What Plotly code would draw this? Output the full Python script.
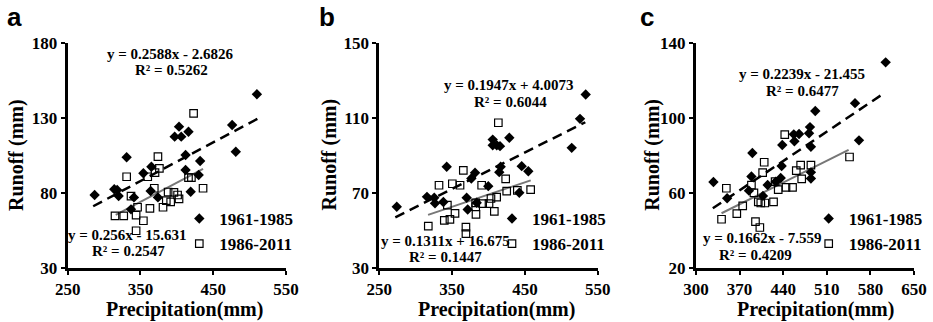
import plotly.graph_objects as go

# ---------------- data ----------------
# Panel a
a_early_x = [287, 314, 318, 320, 331, 337, 341, 354, 365, 364, 374, 397, 403, 406, 416, 412, 412, 419, 430, 432, 476, 481, 510]
a_early_y = [78.6, 82.4, 81.9, 77.9, 103.8, 69.0, 77.0, 93.1, 97.5, 81.3, 77.0, 117.6, 124.3, 117.6, 120.9, 105.3, 95.3, 80.8, 92.0, 101.3, 125.4, 107.5, 145.9]
a_late_x = [315, 327, 344, 354, 344, 331, 346, 337, 360, 370, 376, 374, 369, 363, 381, 388, 396, 401, 403, 385.5, 391.5, 416, 420, 436, 423]
a_late_y = [64.6, 64.6, 65.2, 61.4, 54.7, 90.8, 70.4, 77.9, 90.8, 93.5, 96.4, 104.2, 83.1, 69.7, 70.4, 80.6, 80.4, 78.6, 76.0, 74.8, 74.0, 90.2, 90.2, 83.1, 133.2]

# Panel b
b_early_x = [274, 315.5, 325.5, 326.5, 338, 342.6, 370, 371.4, 376.4, 381.5, 383.8, 399.7, 405.8, 405.8, 411.3, 415.8, 428.6, 416.7, 414.8, 445.6, 454.7, 442.3, 514.3, 525.7, 533.5]
b_early_y = [62.6, 67.9, 67.4, 64.4, 65.1, 84.0, 67.4, 61.1, 77.7, 80.8, 64.7, 73.6, 98.5, 95.5, 95.5, 95.0, 99.5, 84.0, 81.1, 84.3, 81.6, 70.1, 94.1, 109.6, 122.6]
b_late_x = [317.3, 332, 339.3, 347, 343.5, 350.3, 354, 360.9, 365.4, 369, 369, 382.4, 382.4, 382.8, 390.6, 392, 400.7, 403.4, 411.2, 408, 413.5, 423.6, 425, 439.6, 457.9]
b_late_y = [52.2, 74.1, 55.3, 55.8, 63.5, 74.9, 59.0, 74.1, 82.0, 51.7, 48.2, 64.7, 62.6, 58.5, 74.1, 64.3, 64.3, 67.0, 67.7, 60.1, 107.5, 77.5, 70.9, 71.3, 71.8]

# Panel c
c_early_x = [328, 350, 390.5, 389, 385, 415, 407.5, 428, 436, 437.5, 438.5, 458, 457, 465.5, 483, 481.5, 484.5, 484.5, 484.5, 491.5, 555.3, 561.7, 604.5]
c_early_y = [65.8, 57.1, 81.3, 68.8, 61.2, 64.2, 58.4, 66.0, 68.0, 74.4, 85.6, 87.6, 91.3, 91.5, 95.2, 91.9, 84.7, 71.0, 67.7, 103.8, 108.0, 88.1, 129.8]
c_late_x = [341, 365.5, 375, 348.7, 389, 393, 400, 404, 410.5, 424.5, 407, 409.5, 432, 427, 444.5, 455, 442.5, 461, 395.5, 402.5, 546.5, 468, 484.5, 469.7]
c_late_y = [45.9, 48.9, 53.1, 62.5, 64.2, 60.0, 55.2, 54.6, 54.6, 55.2, 70.8, 76.4, 61.8, 66.0, 63.0, 63.0, 91.2, 71.9, 44.6, 41.5, 79.2, 74.9, 74.9, 67.5]

# Trend lines: (slope, intercept) and x extent
a_early_fit = (0.2588, -2.6826); a_early_span = [285, 511]
a_late_fit = (0.256, -15.631);   a_late_span = [316, 436]
b_early_fit = (0.1947, 4.0073);  b_early_span = [272, 533]
b_late_fit = (0.1311, 16.675);   b_late_span = [317, 458]
c_early_fit = (0.2239, -21.455); c_early_span = [327, 600]
c_late_fit = (0.1662, -7.559);   c_late_span = [341, 545]

# Equation labels
a_eq = ["y = 0.2588x - 2.6826", "R² = 0.5262", "y = 0.256x - 15.631", "R² = 0.2547"]
b_eq = ["y = 0.1947x + 4.0073", "R² = 0.6044", "y = 0.1311x + 16.675", "R² = 0.1447"]
c_eq = ["y = 0.2239x - 21.455", "R² = 0.6477", "y = 0.1662x - 7.559", "R² = 0.4209"]

series_names = ["1961-1985", "1986-2011"]
panel_letters = ["a", "b", "c"]

a_xticks = [250, 350, 450, 550]; a_yticks = [30, 80, 130, 180]
b_xticks = [250, 350, 450, 550]; b_yticks = [30, 70, 110, 150]
c_xticks = [300, 370, 440, 510, 580, 650]; c_yticks = [20, 60, 100, 140]

x_title = "Precipitation(mm)"
y_title = "Runoff (mm)"

# ---------------- figure ----------------
W, H = 933, 322
SERIF = "Liberation Serif, Times New Roman, serif"
SANS = "Liberation Sans, Arial, sans-serif"


def px(x):
    return x / W


def py(y):
    return 1 - y / H


fig = go.Figure()

panels = [
    dict(ex=a_early_x, ey=a_early_y, lx=a_late_x, ly=a_late_y,
         ef=a_early_fit, es=a_early_span, lf=a_late_fit, ls=a_late_span),
    dict(ex=b_early_x, ey=b_early_y, lx=b_late_x, ly=b_late_y,
         ef=b_early_fit, es=b_early_span, lf=b_late_fit, ls=b_late_span),
    dict(ex=c_early_x, ey=c_early_y, lx=c_late_x, ly=c_late_y,
         ef=c_early_fit, es=c_early_span, lf=c_late_fit, ls=c_late_span),
]

for i, p in enumerate(panels):
    sfx = "" if i == 0 else str(i + 1)
    xa, ya = "x" + sfx, "y" + sfx
    lg = "legend" + sfx
    # trend lines
    fig.add_trace(go.Scatter(
        x=p["es"], y=[p["ef"][0] * v + p["ef"][1] for v in p["es"]],
        mode="lines", line=dict(color="black", width=2.5, dash="10px,6px"),
        showlegend=False, xaxis=xa, yaxis=ya, hoverinfo="skip"))
    fig.add_trace(go.Scatter(
        x=p["ls"], y=[p["lf"][0] * v + p["lf"][1] for v in p["ls"]],
        mode="lines", line=dict(color="#777777", width=2),
        showlegend=False, xaxis=xa, yaxis=ya, hoverinfo="skip"))
    # points
    fig.add_trace(go.Scatter(
        x=p["ex"], y=p["ey"], mode="markers", name=series_names[0],
        marker=dict(symbol="diamond", size=8, color="black"),
        xaxis=xa, yaxis=ya, legend=lg))
    fig.add_trace(go.Scatter(
        x=p["lx"], y=p["ly"], mode="markers", name=series_names[1],
        marker=dict(symbol="square-open", size=7.5, color="black",
                    line=dict(width=1.2, color="black")),
        xaxis=xa, yaxis=ya, legend=lg))

tick_font = dict(family=SERIF, size=17, color="black", weight="bold")
axis_common = dict(showline=True, linewidth=3, linecolor="black", mirror=False,
                   showgrid=False, zeroline=False, ticks="outside", ticklen=4,
                   tickwidth=2, tickcolor="black", tickfont=tick_font)

x_domains = [[67.7, 286.0], [379.3, 597.7], [696.0, 914.0]]
y_dom = [py(267.7), py(43.3)]
x_ranges = [[250, 550], [250, 550], [300, 650]]
y_ranges = [[30, 180], [30, 150], [20, 140]]
xt = [a_xticks, b_xticks, c_xticks]
yt = [a_yticks, b_yticks, c_yticks]

layout = dict(width=W, height=H, margin=dict(l=0, r=0, t=0, b=0, autoexpand=False),
              paper_bgcolor="white", plot_bgcolor="white")
for i in range(3):
    sfx = "" if i == 0 else str(i + 1)
    layout["xaxis" + sfx] = dict(axis_common, domain=[px(x_domains[i][0]), px(x_domains[i][1])],
                                 range=x_ranges[i], tickvals=xt[i], anchor="y" + sfx)
    layout["yaxis" + sfx] = dict(axis_common, domain=y_dom, range=y_ranges[i],
                                 tickvals=yt[i], anchor="x" + sfx)

# per-panel legends
leg_sym_x = [203.3, 516.0, 832.7]
for i in range(3):
    sfx = "" if i == 0 else str(i + 1)
    layout["legend" + sfx] = dict(
        x=px(leg_sym_x[i] - 24), y=py(201), xanchor="left", yanchor="top",
        bgcolor="rgba(0,0,0,0)", borderwidth=0, itemwidth=30,
        font=dict(family=SERIF, size=17, color="black", weight="bold"),
        tracegroupgap=0)

fig.update_layout(**layout)

ann = []
# panel letters
letter_x = [5, 317, 638]
for i, t in enumerate(panel_letters):
    ann.append(dict(text=t, x=px(letter_x[i]), y=py(17), xref="paper", yref="paper",
                    xanchor="left", yanchor="middle", showarrow=False,
                    font=dict(family=SANS, size=26, color="black", weight="bold")))
# axis titles
xt_cx = [184.7, 496.7, 815.0]
yt_cx = [16.0, 328.5, 651.7]
for i in range(3):
    ann.append(dict(text=x_title, x=px(xt_cx[i]), y=py(309), xref="paper", yref="paper",
                    xanchor="center", yanchor="middle", showarrow=False,
                    font=dict(family=SERIF, size=20, color="black", weight="bold")))
    ann.append(dict(text=y_title, x=px(yt_cx[i]), y=py(155), xref="paper", yref="paper",
                    xanchor="center", yanchor="middle", showarrow=False, textangle=-90,
                    font=dict(family=SERIF, size=20, color="black", weight="bold")))
# equations
eq_pos = [
    [(170, 53.5), (171, 70.3), (127.5, 235), (128, 250.5)],
    [(509.5, 85), (510, 102), (445, 240.7), (445, 257)],
    [(801.7, 74), (802, 90.7), (762.5, 238.3), (755, 255)],
]
eqs = [a_eq, b_eq, c_eq]
for i in range(3):
    for j in range(4):
        ann.append(dict(text=eqs[i][j], x=px(eq_pos[i][j][0]), y=py(eq_pos[i][j][1]),
                        xref="paper", yref="paper", xanchor="center", yanchor="middle",
                        showarrow=False,
                        font=dict(family=SERIF, size=15, color="black", weight="bold")))
fig.update_layout(annotations=ann)

fig.write_html("out.html")
